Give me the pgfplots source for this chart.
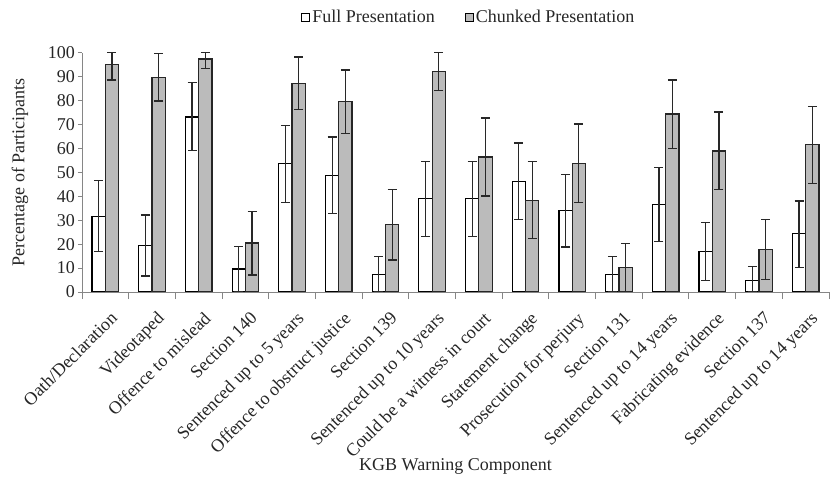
\documentclass[border=0pt]{standalone}
\usepackage{fontspec}
\setmainfont{Liberation Serif}
\usepackage{pgfplots}
\usepackage{pgfplotstable}
\pgfplotsset{compat=1.18}
\definecolor{barGray}{RGB}{187,187,187}
\definecolor{axGray}{RGB}{134,134,134}
\definecolor{errGray}{RGB}{40,40,40}

\pgfplotstableread{
x full fp fm chunk cp cm
0 31.5 15.0 14.6 95.0 5.0 6.4
1 19.5 12.7 12.8 89.7 10.0 9.9
2 73.1 14.4 14.0 97.4 2.6 3.9
3 9.6 9.5 9.6 20.5 13.2 13.4
4 53.6 15.9 16.1 87.2 11.0 11.0
5 48.7 16.1 16.0 79.5 13.3 13.3
6 7.2 7.8 7.2 28.1 14.8 14.7
7 39.0 15.5 15.7 92.3 7.7 8.2
8 39.0 15.5 15.7 56.4 16.3 16.3
9 46.2 16.1 15.8 38.4 16.1 16.1
10 34.1 15.1 15.3 53.8 16.4 16.5
11 7.2 7.8 7.2 10.2 10.0 10.2
12 36.6 15.4 15.4 74.4 14.2 14.4
13 17.0 12.1 12.1 58.9 16.3 16.1
14 4.7 5.9 4.7 17.8 12.6 12.5
15 24.4 13.6 14.0 61.6 15.8 16.1
}\datatable

\begin{document}
\begin{tikzpicture}
\path[use as bounding box] (-82bp,-198bp) rectangle (750bp,292bp);
\begin{axis}[
  at={(0,0)}, anchor=south west,
  scale only axis, width=747bp, height=239.3bp,
  font=\fontsize{18bp}{21bp}\selectfont,
  /pgf/number format/assume math mode=true,
  ybar=0pt, bar width=0.285,
  xmin=-0.5, xmax=15.5, ymin=0, ymax=100,
  ytick={0,10,...,100},
  xtick={0,...,15},
  xticklabels={Oath/Declaration,Videotaped,Offence to mislead,Section 140,Sentenced up to 5 years,Offence to obstruct justice,Section 139,Sentenced up to 10 years,Could be a witness in court,Statement change,Prosecution for perjury,Section 131,Sentenced up to 14 years,Fabricating evidence,Section 137,Sentenced up to 14 years},
  minor xtick={-0.5,0.5,...,15.5},
  axis x line*=bottom, axis y line*=left,
  axis on top,
  axis line style={draw=axGray, line width=0.9bp},
  tick align=outside,
  major tick length=4bp, minor tick length=7bp,
  tick style={draw=axGray, line width=0.9bp},
  major x tick style={draw=none},
  xticklabel style={xshift=4bp, yshift=-13bp, rotate=45, anchor=north east, inner sep=1bp, text=black!85},
  yticklabel style={text=black!85, inner sep=3bp},
  ylabel={Percentage of Participants},
  ylabel style={at={(axis description cs:-0.083,0.5)}, anchor=center, text=black!85},
  xlabel={KGB Warning Component},
  xlabel style={at={(axis description cs:0.5,-0.731)}, anchor=center, text=black!85},
  legend style={at={(axis description cs:0.518,1.148)}, anchor=center, draw=none, fill=none,
    legend columns=2, font=\fontsize{18bp}{21bp}\selectfont, text=black!85,
    /tikz/every even column/.append style={column sep=28bp}},
  clip=false,
  error bars/y dir=both, error bars/y explicit,
  error bars/error bar style={line width=1.2bp, color=errGray},
  error bars/error mark options={rotate=90, mark size=4.5bp, line width=1.2bp, color=errGray},
]
\addplot[draw=black, line width=1.2bp, fill=white,
  legend image code/.code={\draw[draw=black, line width=1bp, fill=white] (0bp,-4bp) rectangle (8bp,4bp);}]
  table[x=x, y=full, y error plus=fp, y error minus=fm] {\datatable};
\addplot[draw=black!85, line width=1.2bp, fill=barGray,
  legend image code/.code={\draw[draw=black, line width=1bp, fill=barGray] (0bp,-4bp) rectangle (8bp,4bp);}]
  table[x=x, y=chunk, y error plus=cp, y error minus=cm] {\datatable};
\legend{Full Presentation, Chunked Presentation}
\end{axis}
\end{tikzpicture}
\end{document}
